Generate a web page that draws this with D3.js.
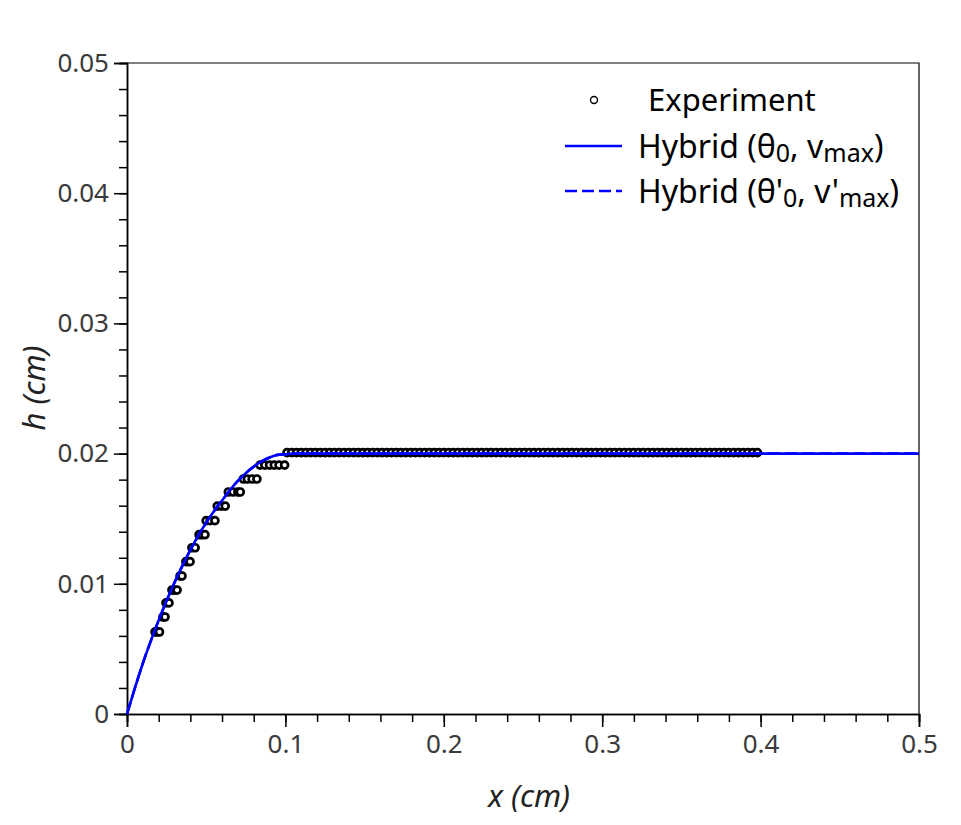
<!DOCTYPE html>
<html>
<head>
<meta charset="utf-8">
<script src="https://cdn.jsdelivr.net/npm/d3@7"></script>
<style>
  body { margin: 0; background: #fff; }
  svg text { font-family: "Noto Sans", sans-serif; }
</style>
</head>
<body>
<div id="chart"></div>
<script>
let expLevels = [0.0063, 0.00745, 0.00853, 0.00952, 0.0106, 0.0117, 0.01277,
                 0.01377, 0.01485, 0.01597, 0.01705, 0.01805, 0.01912, 0.02007];
let expRuns = [
  [0.0177, 0.019, 0.0205],
  [0.0227, 0.024],
  [0.0246, 0.0265],
  [0.0284, 0.030, 0.0316],
  [0.0335, 0.0347],
  [0.0372, 0.0385, 0.0398],
  [0.041, 0.043],
  [0.0455, 0.0473, 0.0492],
  [0.050, 0.0525, 0.0555],
  [0.057, 0.0595, 0.062],
  [0.064, 0.067, 0.070, 0.0715],
  [0.0735, 0.076, 0.079, 0.082],
  [0.084, 0.087, 0.090, 0.093, 0.096, 0.0995],
  [0.101,0.104,0.107,0.110,0.113,0.116,0.119,0.122,0.125,0.128,0.131,0.134,0.137,
   0.140,0.143,0.146,0.149,0.152,0.155,0.158,0.161,0.164,0.167,0.170,0.173,0.176,
   0.179,0.182,0.185,0.188,0.191,0.194,0.197,0.200,0.203,0.206,0.209,0.212,0.215,
   0.218,0.221,0.224,0.227,0.230,0.233,0.236,0.239,0.242,0.245,0.248,0.251,0.254,
   0.257,0.260,0.263,0.266,0.269,0.272,0.275,0.278,0.281,0.284,0.287,0.290,0.293,
   0.296,0.299,0.302,0.305,0.308,0.311,0.314,0.317,0.320,0.323,0.326,0.329,0.332,
   0.335,0.338,0.341,0.344,0.347,0.350,0.353,0.356,0.359,0.362,0.365,0.368,0.371,
   0.374,0.377,0.380,0.383,0.386,0.389,0.392,0.395,0.398]
];

// hybrid model, (theta0, vmax)
let hybX = [0, 0.005, 0.01, 0.015, 0.02, 0.025, 0.03, 0.035, 0.04, 0.045, 0.05, 0.055,
            0.06, 0.065, 0.07, 0.075, 0.08, 0.085, 0.09, 0.095, 0.10, 0.105, 0.11, 0.12, 0.5];
let hybH = [0, 0.0020, 0.0039, 0.0056, 0.0072, 0.0087, 0.0101, 0.0114, 0.0126, 0.0137,
            0.0147, 0.0156, 0.0164, 0.0172, 0.0179, 0.0185, 0.0190, 0.0194, 0.0197,
            0.0199, 0.01995, 0.02, 0.02, 0.02, 0.02];
// hybrid model, (theta'0, v'max)
let hybPX = [0, 0.005, 0.01, 0.015, 0.02, 0.025, 0.03, 0.035, 0.04, 0.045, 0.05, 0.055,
             0.06, 0.065, 0.07, 0.075, 0.08, 0.085, 0.09, 0.095, 0.10, 0.105, 0.11, 0.12, 0.5];
let hybPH = [0, 0.0020, 0.0039, 0.0056, 0.0072, 0.0087, 0.0101, 0.0114, 0.0126, 0.0137,
             0.0147, 0.0156, 0.0164, 0.0172, 0.0179, 0.0185, 0.0190, 0.0194, 0.0197,
             0.0199, 0.01995, 0.02, 0.02, 0.02, 0.02];

let xTicks = [0, 0.1, 0.2, 0.3, 0.4, 0.5];
let xTickLabels = ["0", "0.1", "0.2", "0.3", "0.4", "0.5"];
let yTicks = [0, 0.01, 0.02, 0.03, 0.04, 0.05];
let yTickLabels = ["0", "0.01", "0.02", "0.03", "0.04", "0.05"];

let width = 961, height = 825;
let plotL = 127, plotR = 919, plotT = 63, plotB = 714;

let xScale = d3.scaleLinear().domain([0, 0.5]).range([plotL, plotR]);
let yScale = d3.scaleLinear().domain([0, 0.05]).range([plotB, plotT]);

let svg = d3.select("#chart").append("svg")
    .attr("width", width)
    .attr("height", height);

// frame (top and right)
svg.append("path")
  .attr("d", `M ${plotL} ${plotT} L ${plotR} ${plotT} L ${plotR} ${plotB}`)
  .attr("fill", "none")
  .attr("stroke", "black")
  .attr("stroke-width", 1.2);

// minor ticks
let xMinor = d3.range(0, 26).map(i => i * 0.02);
let yMinor = d3.range(0, 26).map(i => i * 0.002);

let xAxis = svg.append("g")
  .attr("transform", `translate(0,${plotB})`);
xAxis.call(d3.axisBottom(xScale).tickValues(xMinor).tickSize(8).tickFormat(""));
xAxis.append("g").call(d3.axisBottom(xScale).tickValues(xTicks).tickSize(13).tickPadding(8)
  .tickFormat((d, i) => xTickLabels[i]));

let yAxis = svg.append("g")
  .attr("transform", `translate(${plotL},0)`);
yAxis.call(d3.axisLeft(yScale).tickValues(yMinor).tickSize(8).tickFormat(""));
yAxis.append("g").call(d3.axisLeft(yScale).tickValues(yTicks).tickSize(13).tickPadding(5)
  .tickFormat((d, i) => yTickLabels[i]));

svg.selectAll(".domain").attr("stroke", "black").attr("stroke-width", 1.5);
svg.selectAll(".tick line").attr("stroke", "black").attr("stroke-width", 1.5);
svg.selectAll(".tick text")
  .attr("font-family", "Noto Sans, sans-serif")
  .attr("font-size", 26)
  .attr("fill", "#3a3a3a");

// axis titles
svg.append("text")
  .attr("x", 529).attr("y", 807)
  .attr("text-anchor", "middle")
  .attr("font-size", 31)
  .attr("font-style", "italic")
  .attr("fill", "#222")
  .text("x (cm)");

svg.append("text")
  .attr("transform", "translate(45,388) rotate(-90)")
  .attr("text-anchor", "middle")
  .attr("font-size", 31)
  .attr("font-style", "italic")
  .attr("fill", "#222")
  .text("h (cm)");

// experiment points
let expPoints = [];
expLevels.forEach((h, i) => expRuns[i].forEach(x => expPoints.push({x: x, h: h})));

svg.append("g").selectAll("circle")
  .data(expPoints)
  .enter()
  .append("circle")
  .attr("cx", d => xScale(d.x))
  .attr("cy", d => yScale(d.h))
  .attr("r", 3.5)
  .attr("fill", "white")
  .attr("stroke", "black")
  .attr("stroke-width", 2.7);

// model lines
let line = d3.line().x(d => xScale(d[0])).y(d => yScale(d[1])).curve(d3.curveMonotoneX);

svg.append("path")
  .attr("d", line(hybX.map((x, i) => [x, hybH[i]])))
  .attr("fill", "none")
  .attr("stroke", "#0000ff")
  .attr("stroke-width", 2.6);

svg.append("path")
  .attr("d", line(hybPX.map((x, i) => [x, hybPH[i]])))
  .attr("fill", "none")
  .attr("stroke", "#0000ff")
  .attr("stroke-width", 2.6)
  .attr("stroke-dasharray", "12,5");

// legend
let legend = svg.append("g");
legend.append("circle")
  .attr("cx", 594).attr("cy", 100).attr("r", 3.5)
  .attr("fill", "white").attr("stroke", "black").attr("stroke-width", 1.4);
legend.append("text")
  .attr("x", 648).attr("y", 111)
  .attr("font-size", 31).attr("fill", "black")
  .text("Experiment");

legend.append("line")
  .attr("x1", 565).attr("x2", 622).attr("y1", 146).attr("y2", 146)
  .attr("stroke", "#0000ff").attr("stroke-width", 2.5);
let t2 = legend.append("text")
  .attr("x", 638).attr("y", 158)
  .attr("font-size", 32).attr("fill", "black");
t2.append("tspan").text("Hybrid (θ");
t2.append("tspan").attr("font-size", 25).attr("dy", 4).text("0");
t2.append("tspan").attr("dy", -4).text(", v");
t2.append("tspan").attr("font-size", 25).attr("dy", 4).text("max");
t2.append("tspan").attr("dy", -4).text(")");

legend.append("line")
  .attr("x1", 565).attr("x2", 622).attr("y1", 191).attr("y2", 191)
  .attr("stroke", "#0000ff").attr("stroke-width", 2.5)
  .attr("stroke-dasharray", "12,5");
let t3 = legend.append("text")
  .attr("x", 638).attr("y", 203)
  .attr("font-size", 32).attr("fill", "black");
t3.append("tspan").text("Hybrid (θ'");
t3.append("tspan").attr("font-size", 25).attr("dy", 4).text("0");
t3.append("tspan").attr("dy", -4).text(", v'");
t3.append("tspan").attr("font-size", 25).attr("dy", 4).text("max");
t3.append("tspan").attr("dy", -4).text(")");
</script>
</body>
</html>
